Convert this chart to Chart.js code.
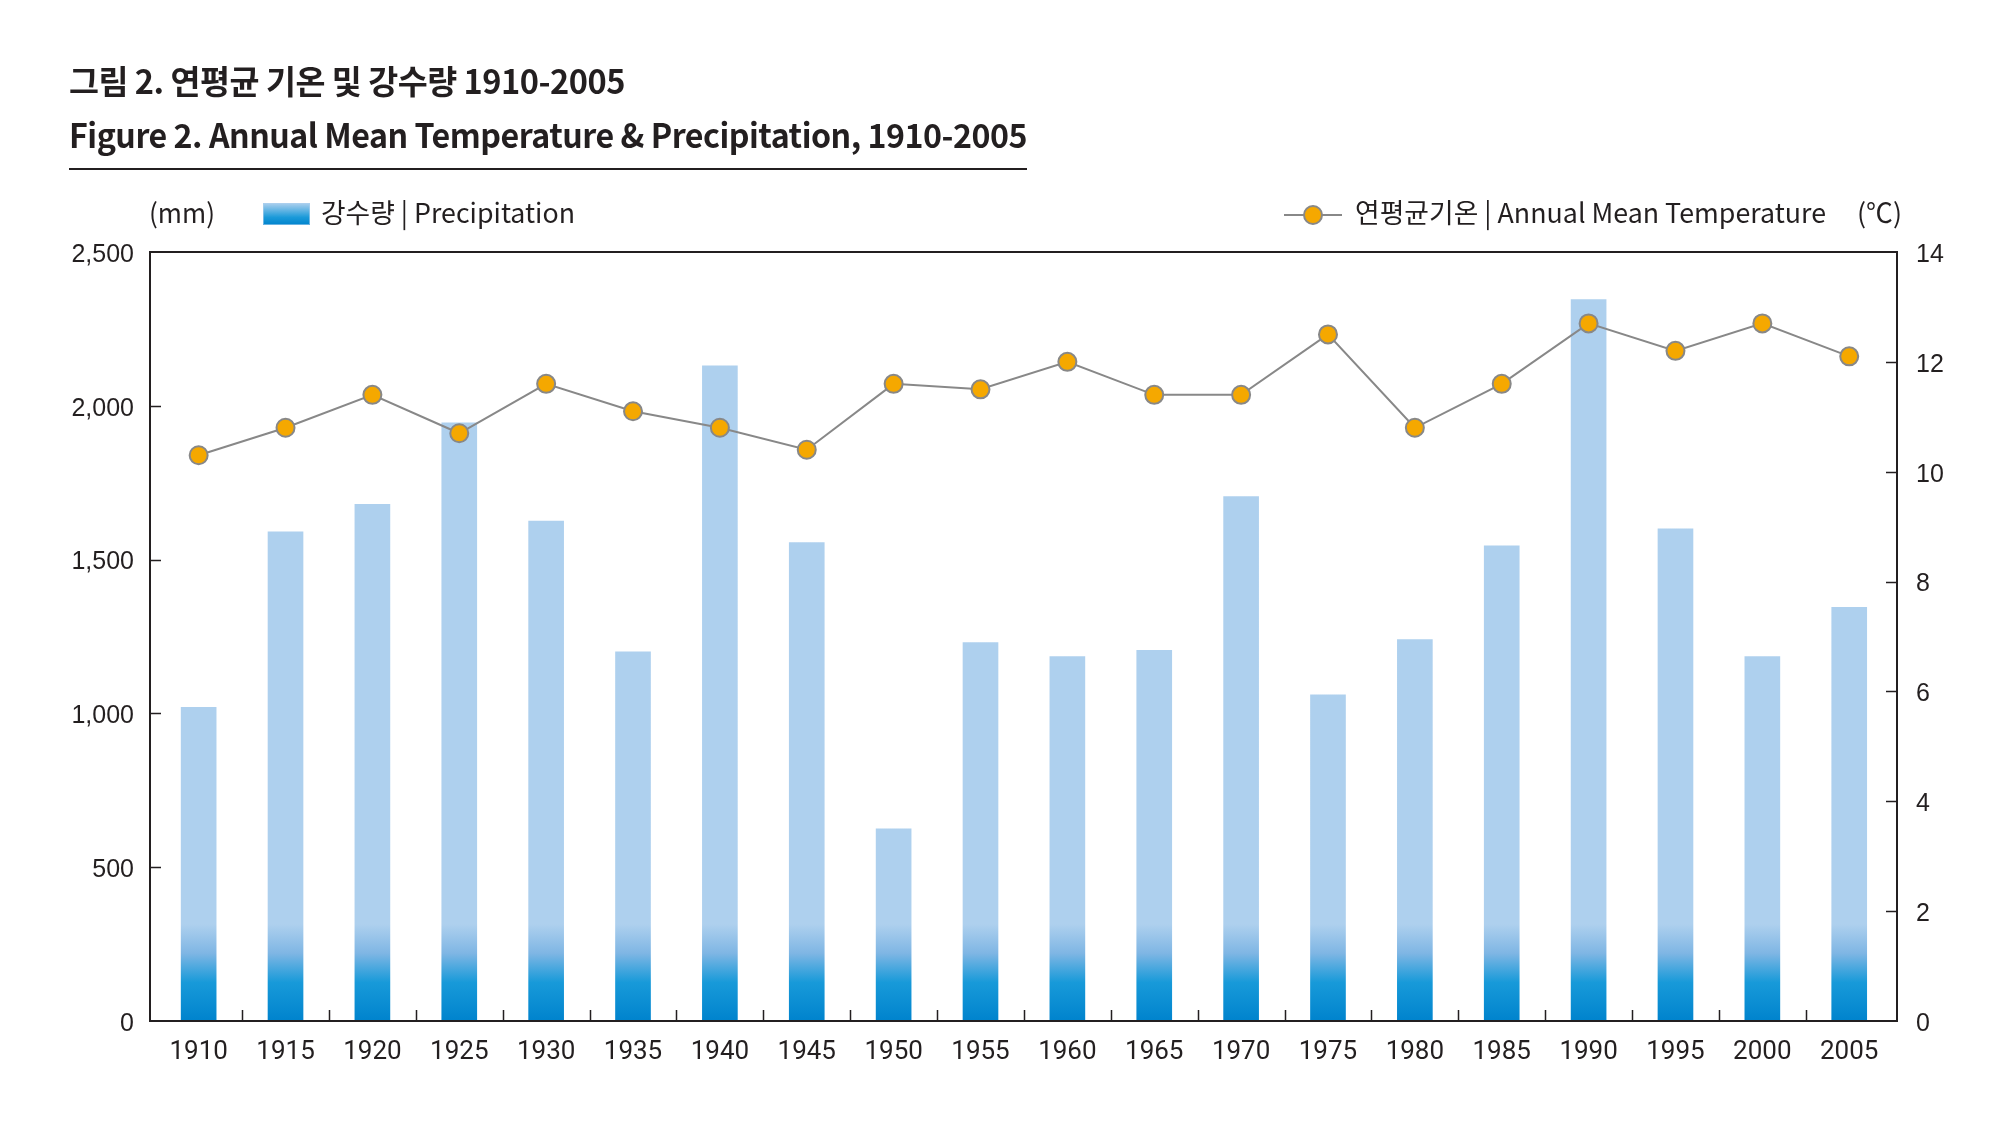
<!DOCTYPE html>
<html><head><meta charset="utf-8">
<script src="https://cdn.jsdelivr.net/npm/chart.js@4"></script>
<style>
html,body{margin:0;padding:0;background:#fff;}
#wrap{position:relative;width:2008px;height:1122px;overflow:hidden;}
canvas{position:absolute;left:0;top:0;}
.t{position:absolute;color:#231f20;white-space:nowrap;transform-origin:0 50%;}
#t1{left:69px;top:56px;font:700 33px "Noto Sans CJK KR";letter-spacing:-0.5px;}
#t2{left:69px;top:110px;font:700 33px "Noto Sans CJK KR";letter-spacing:-0.5px;}
#rule{position:absolute;left:69px;top:168px;width:958px;height:2px;background:#231f20;}
.lg{font:400 27px "Noto Sans CJK KR";top:192px;}
#sw{position:absolute;left:263px;top:203px;width:47px;height:22px;background:linear-gradient(to top,#0083cd 0%,#1a9ad9 35%,#aed0ee 100%);box-shadow:inset 0 0 0 1px rgba(174,208,238,0.6);}
#ln{position:absolute;left:1284px;top:214px;width:58px;height:2px;background:#888;}
#dot{position:absolute;left:1303px;top:205px;width:20px;height:20px;border-radius:50%;background:#f5a800;border:2px solid #888;box-sizing:border-box;}
</style></head>
<body><div id="wrap">
<canvas id="c" width="2008" height="1122"></canvas>
<div class="t" id="t1" data-w="556">그림 2. 연평균 기온 및 강수량 1910-2005</div>
<div class="t" id="t2" data-w="958">Figure 2. Annual Mean Temperature &amp; Precipitation, 1910-2005</div>
<div id="rule"></div>
<div class="t lg" style="left:149px;" data-w="66">(mm)</div>
<div id="sw"></div>
<div class="t lg" style="left:321px;" data-w="254">강수량 | Precipitation</div>
<div id="ln"></div><div id="dot"></div>
<div class="t lg" style="left:1355px;" data-w="471">연평균기온 | Annual Mean Temperature</div>
<div class="t lg" style="left:1857px;" data-w="45">(℃)</div>
</div>
<script>
const years = ['1910','1915','1920','1925','1930','1935','1940','1945','1950','1955','1960','1965','1970','1975','1980','1985','1990','1995','2000','2005'];
const precipitation = [1020,1590,1680,1945,1625,1200,2130,1555,625,1230,1185,1205,1705,1060,1240,1545,2345,1600,1185,1345];
const temperature = [10.3,10.8,11.4,10.7,11.6,11.1,10.8,10.4,11.6,11.5,12.0,11.4,11.4,12.5,10.8,11.6,12.7,12.2,12.7,12.1];
const precipTicks = [0,500,1000,1500,2000,2500];
const tempTicks = [0,2,4,6,8,10,12,14];

const INK = '#231f20';

// fit text widths to the reference
document.querySelectorAll('[data-w]').forEach(el=>{
  const w = el.getBoundingClientRect().width;
  el.style.transform = 'scaleX(' + (parseFloat(el.dataset.w)/w) + ')';
});

const frame = {
  id:'frame',
  afterDraw(chart){
    const {ctx, chartArea:a, scales} = chart;
    ctx.save();
    ctx.strokeStyle = INK;
    ctx.lineWidth = 1.5;
    ctx.beginPath();
    for(let i=0;i<years.length-1;i++){
      const x = Math.round((scales.x.getPixelForValue(i)+scales.x.getPixelForValue(i+1))/2)+0.5;
      ctx.moveTo(x, a.bottom); ctx.lineTo(x, a.bottom-11);
    }
    precipTicks.slice(1,-1).forEach(v=>{
      const y = Math.round(scales.y.getPixelForValue(v))+0.5;
      ctx.moveTo(a.left, y); ctx.lineTo(a.left+11, y);
    });
    tempTicks.slice(1,-1).forEach(v=>{
      const y = Math.round(scales.y1.getPixelForValue(v))+0.5;
      ctx.moveTo(a.right, y); ctx.lineTo(a.right-11, y);
    });
    ctx.stroke();
    ctx.lineWidth = 2;
    ctx.strokeRect(a.left, a.top, a.right-a.left, a.bottom-a.top);
    ctx.restore();
  }
};

function barFill(c){
  const chart = c.chart;
  if(!chart.chartArea) return '#aed0ee';
  const y = chart.scales.y;
  const g = chart.ctx.createLinearGradient(0, y.getPixelForValue(0), 0, y.getPixelForValue(315));
  g.addColorStop(0,'#0083cd');
  g.addColorStop(0.4,'#189ad9');
  g.addColorStop(0.7,'#7fb6e4');
  g.addColorStop(1,'#aed0ee');
  return g;
}

new Chart(document.getElementById('c'), {
  data:{
    datasets:[
      {type:'line', label:'연평균기온', data:temperature.map((v,i)=>({x:i,y:v})), yAxisID:'y1', order:0,
       borderColor:'#888', borderWidth:2, pointRadius:9, pointBorderWidth:2,
       pointBackgroundColor:'#f5a800', pointBorderColor:'#888', tension:0},
      {type:'bar', label:'강수량', data:precipitation.map((v,i)=>({x:i,y:v})), yAxisID:'y', order:1,
       backgroundColor:barFill, barThickness:35}
    ]
  },
  options:{
    responsive:false, animation:false, devicePixelRatio:1,
    layout:{padding:{left:0,right:0,top:252,bottom:0}},
    plugins:{legend:{display:false}, tooltip:{enabled:false}},
    scales:{
      x:{
        type:'linear', offset:false, min:-0.56, max:years.length-1+0.55,
        afterBuildTicks(s){ s.ticks = years.map((_,i)=>({value:i})); },
        grid:{display:false, offset:false}, border:{display:false},
        ticks:{color:INK, font:{family:'Roboto', size:26}, padding:8, autoSkip:false, maxRotation:0,
               callback:v=>years[v]},
        afterFit(s){ s.height = 101; }
      },
      y:{
        position:'left', min:0, max:2500,
        afterBuildTicks(s){ s.ticks = precipTicks.map(v=>({value:v})); },
        grid:{display:false}, border:{display:false},
        ticks:{color:INK, font:{family:'Liberation Sans', size:25}, padding:8, labelOffset:3,
               callback:v=>v.toLocaleString('en-US')},
        afterFit(s){ s.width = 150; }
      },
      y1:{
        position:'right', min:0, max:14,
        afterBuildTicks(s){ s.ticks = tempTicks.map(v=>({value:v})); },
        grid:{display:false}, border:{display:false},
        ticks:{color:INK, font:{family:'Liberation Sans', size:25}, padding:11, labelOffset:3},
        afterFit(s){ s.width = 111; }
      }
    }
  },
  plugins:[frame]
});
</script>
</body></html>
